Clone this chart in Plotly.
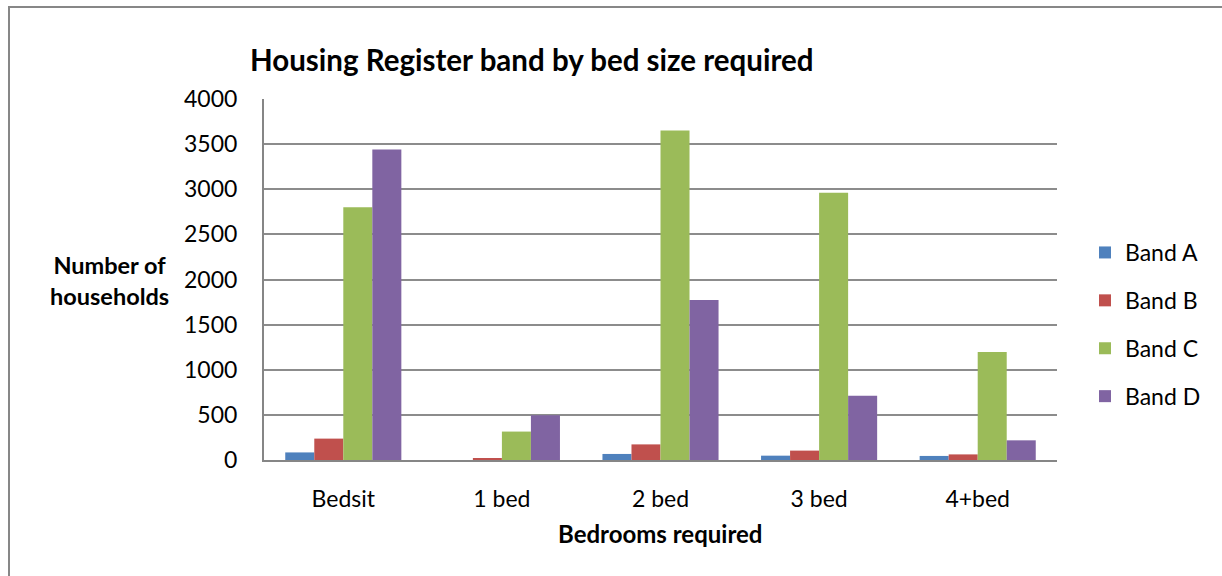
import plotly.graph_objects as go

bed_sizes = ["Bedsit", "1 bed", "2 bed", "3 bed", "4+bed"]
band_a = [84, 0, 67, 48, 45]
band_b = [237, 20, 173, 104, 62]
band_c = [2800, 315, 3650, 2962, 1196]
band_d = [3440, 495, 1773, 711, 218]

series = [
    ("Band A", band_a, "#4F81BD"),
    ("Band B", band_b, "#C0504D"),
    ("Band C", band_c, "#9BBB59"),
    ("Band D", band_d, "#8064A2"),
]

FONT = "Lato, Calibri, Carlito, sans-serif"

fig = go.Figure()
for i, (name, vals, col) in enumerate(series):
    fig.add_trace(go.Bar(
        x=bed_sizes, y=vals, name=name, marker_color=col,
        marker_line_width=0, legendgroup=name,
    ))

W, H = 1222, 576
L, R, T, B = 264, 165, 99, 116
pw, ph = W - L - R, H - T - B

def px_x(x):
    return (x - L) / pw

def px_y(y):
    return (H - B - y) / ph

fig.update_layout(
    width=W, height=H,
    margin=dict(l=L, r=R, t=T, b=B, pad=0),
    paper_bgcolor="white", plot_bgcolor="white",
    barmode="group", bargap=0.268, bargroupgap=0,
    font=dict(family=FONT, size=23, color="black"),
    showlegend=True,
    legend=dict(
        x=px_x(1085), y=px_y(231), xanchor="left", yanchor="top",
        font=dict(size=23), tracegroupgap=15, itemwidth=30,
        bgcolor="rgba(0,0,0,0)",
    ),
    xaxis=dict(
        showgrid=False, showline=True, linecolor="#868686", linewidth=2,
        ticks="", ticklabelstandoff=17, tickfont=dict(size=23),
    ),
    yaxis=dict(
        range=[0, 4000], dtick=500, showgrid=True, gridcolor="#8C8C8C",
        gridwidth=1.5, showline=True, linecolor="#868686", linewidth=2,
        ticks="", ticklabelstandoff=20, tickfont=dict(size=23), zeroline=False,
    ),
    annotations=[
        dict(text="<b>Housing Register band by bed size required</b>",
             x=px_x(532), y=px_y(60), xref="paper", yref="paper",
             showarrow=False, font=dict(size=29.5), xanchor="center", yanchor="middle"),
        dict(text="<b>Number of<br>households</b>",
             x=px_x(109), y=px_y(280), xref="paper", yref="paper",
             showarrow=False, font=dict(size=23.5), xanchor="center", yanchor="middle"),
        dict(text="<b>Bedrooms required</b>",
             x=px_x(660), y=px_y(533), xref="paper", yref="paper",
             showarrow=False, font=dict(size=24), xanchor="center", yanchor="middle"),
    ],
    shapes=[
        dict(type="rect", xref="paper", yref="paper",
             x0=px_x(9), x1=px_x(1260), y0=px_y(620), y1=px_y(7),
             line=dict(color="#878787", width=2), fillcolor="rgba(0,0,0,0)",
             layer="below"),
    ],
)

fig.write_html("out.html")
